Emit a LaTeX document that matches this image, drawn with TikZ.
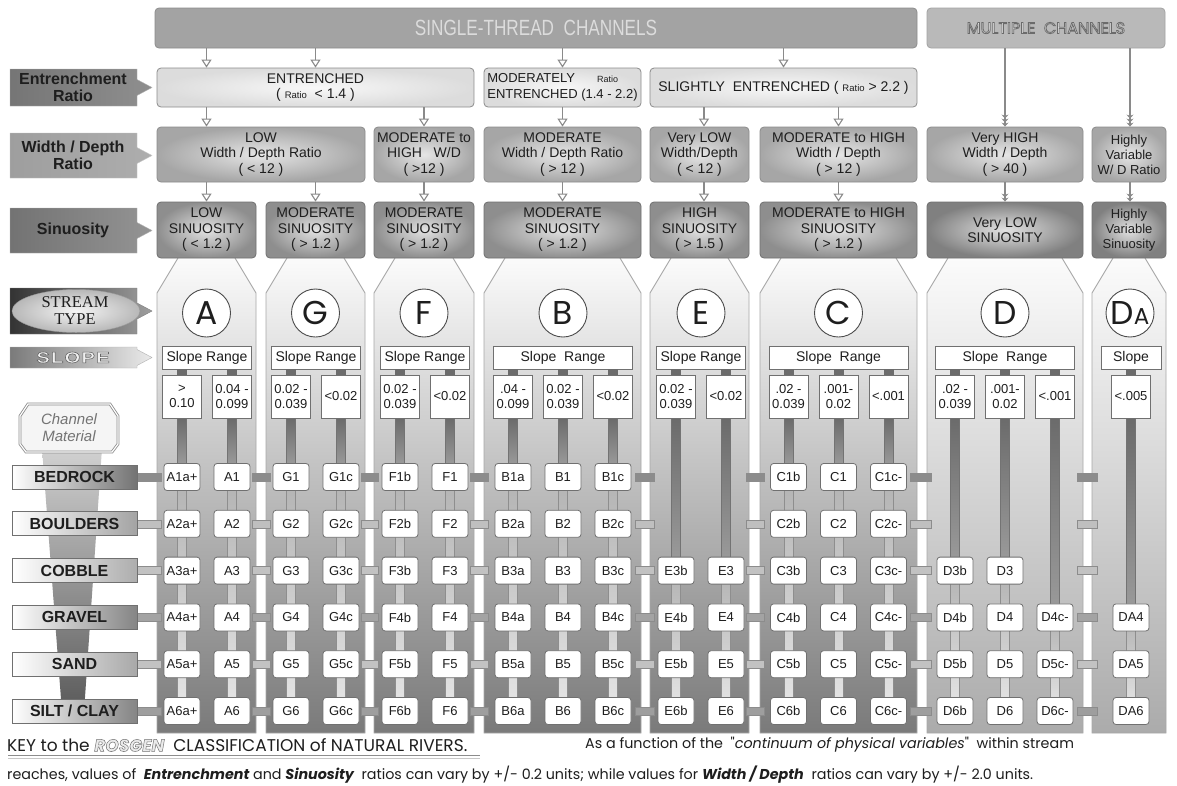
\documentclass[tikz,border=0pt]{standalone}
\usepackage{fontspec}
\setmainfont{Liberation Sans}
\newfontfamily\serifF{Liberation Serif}
\newfontfamily\gothicF{Poppins}
\newfontfamily\narrowF[FakeStretch=0.78]{Liberation Sans}
\newfontfamily\wideF[FakeStretch=1.3,LetterSpace=8]{Liberation Sans}
\usetikzlibrary{arrows.meta}
\newcommand\fsz[2]{\fontsize{#1}{#2}\selectfont}
% outlined text: fill in the current colour, stroke in grey (#1 = stroke grey level, #2 = width)
\newcommand\hollowtext[3]{\special{pdf:literal direct 2 Tr #2 w #1 G}#3\special{pdf:literal direct 0 Tr}}
\newcommand\mylabelshape[3]{\path[#3] (10,#1) -- (137,#1) -- (137,{(#1+#2)/2-8}) -- (152,{(#1+#2)/2}) -- (137,{(#1+#2)/2+8}) -- (137,#2) -- (10,#2) -- cycle;}
\definecolor{edgeA}{HTML}{8C8C8C}
\definecolor{stF}{HTML}{A3A3A3}
\definecolor{stT}{HTML}{DCDCDC}
\definecolor{mcF}{HTML}{B9B9B9}
\definecolor{entIn}{HTML}{F8F8F8}
\definecolor{entOut}{HTML}{DCDCDC}
\definecolor{wdIn}{HTML}{E6E6E6}
\definecolor{wdOut}{HTML}{A6A6A6}
\definecolor{snIn}{HTML}{E2E2E2}
\definecolor{snOut}{HTML}{8E8E8E}
\definecolor{ptop}{HTML}{FBFBFB}
\definecolor{pbotS}{HTML}{7A7A7A}
\definecolor{pbotD}{HTML}{ABABAB}
\definecolor{pline}{HTML}{A8A8A8}
\definecolor{arr}{HTML}{8A8A8A}
\definecolor{boxe}{HTML}{707070}
\definecolor{bare}{HTML}{8E8E8E}
\definecolor{txt}{HTML}{1E1E1E}
\begin{document}
\begin{tikzpicture}[x=1pt,y=-1pt,font=\fsz{14}{15.5},
 every node/.append style={text=txt},
 bx/.style={rounded corners=4pt, inner sep=0pt, align=center, line width=0.8pt},
 stbox/.style={bx, draw=edgeA, fill=stF},
 entb/.style={bx, draw=edgeA, inner color=entIn, outer color=entOut},
 wdb/.style={bx, draw=edgeA, inner color=wdIn, outer color=wdOut},
 snb/.style={bx, draw=edgeA!80!black, inner color=snIn, outer color=snOut},
 oarr/.style={draw=arr, line width=1.3pt, -{Triangle[open,fill=white,length=8pt,width=10pt,line width=1.1pt]}},
 marr/.style={draw=arr, line width=1.5pt, -{Stealth[length=4pt,width=7pt]Stealth[length=4pt,width=7pt]Stealth[length=4pt,width=7pt]}},
 marrb/.style={draw=arr, line width=1.5pt, -{Stealth[length=4pt,width=7pt]Stealth[length=4pt,width=7pt]}},
 rb/.style={draw=boxe, fill=white, rounded corners=3pt, minimum width=36pt, minimum height=27pt, inner sep=0pt, font=\fsz{13}{13}, line width=0.8pt},
 vb/.style={draw=boxe, fill=white, minimum width=39pt, minimum height=43pt, inner sep=0pt, align=center, font=\fsz{13}{15}, line width=0.7pt},
 srb/.style={draw=boxe, fill=white, minimum height=23pt, inner sep=0pt, font=\fsz{14}{14}, line width=0.7pt},
 circ/.style={circle, draw=black!70, fill=white, minimum size=48pt, inner sep=0pt, line width=0.9pt, font=\gothicF\fsz{33}{33}},
 rowl/.style={draw=boxe, minimum width=125pt, minimum height=24pt, inner sep=0pt, font=\bfseries\fsz{16}{16}, line width=0.7pt},
 lbltext/.style={font=\bfseries\fsz{16}{17}, align=center, inner sep=0pt}]
\useasboundingbox (0,0) rectangle (1177,785);
\fill[white] (0,0) rectangle (1177,785);
\foreach \n/\v in {A/206.5,G/315.5,F/424,B/562.5,E/699.5,Ea/704,C/838.5,D/1005,DA/1130,SL/783.5} \coordinate (c\n) at (\v,0);
% top row
\node[stbox, minimum width=762pt, minimum height=40pt] (ST) at (536,28) {\narrowF\fsz{22}{22}\color{stT}SINGLE-THREAD\ \ CHANNELS};
\node[bx, draw=edgeA!80, fill=mcF, minimum width=238pt, minimum height=40pt] (MC) at (1046,28) {\gothicF\fsz{16}{16}\color{black!2}\hollowtext{0.42}{0.8}{MULTIPLE\ \ CHANNELS}};
% entrenchment
\node[entb, minimum width=317pt, minimum height=39pt] (EN) at (315.5,87.5) {ENTRENCHED\\( {\fsz{9.5}{10}Ratio}\ \ < 1.4 )};
\node[entb, minimum width=157pt, minimum height=39pt, align=left, font=\fsz{13}{15.5}] (MO) at (562.5,87.5) {MODERATELY\hspace{22pt}{\fsz{9}{9}Ratio}\\ENTRENCHED (1.4 - 2.2)};
\node[entb, minimum width=267pt, minimum height=39pt] (SL) at (783.5,87.5) {SLIGHTLY\ \ ENTRENCHED ( {\fsz{9.5}{10}Ratio} > 2.2 )};
\draw[oarr] (ST.south -| cA) -- (EN.north -| cA);
\draw[oarr] (ST.south -| cG) -- (EN.north -| cG);
\draw[oarr] (ST.south -| cB) -- (MO.north -| cB);
\draw[oarr] (ST.south -| cSL) -- (SL.north -| cSL);
% width / depth
\node[wdb, minimum width=208pt, minimum height=55pt] (wAG) at (261,154.5) {LOW\\Width / Depth Ratio\\( < 12 )};
\node[wdb, minimum width=100pt, minimum height=55pt] (wF) at (424,154.5) {MODERATE to\\HIGH\ \ \ W/D\\( >12 )};
\node[wdb, minimum width=157pt, minimum height=55pt] (wB) at (562.5,154.5) {MODERATE\\Width / Depth Ratio\\( > 12 )};
\node[wdb, minimum width=99pt, minimum height=55pt] (wE) at (699.5,154.5) {Very LOW\\Width/Depth\\( < 12 )};
\node[wdb, minimum width=157pt, minimum height=55pt] (wC) at (838.5,154.5) {MODERATE to HIGH\\Width / Depth\\( > 12 )};
\node[wdb, minimum width=156pt, minimum height=55pt] (wD) at (1005,154.5) {Very HIGH\\Width / Depth\\( > 40 )};
\node[wdb, minimum width=74pt, minimum height=55pt, font=\fsz{13}{15}] (wDA) at (1129,154.5) {Highly\\Variable\\W/ D Ratio};
\draw[oarr] (EN.south -| cA) -- (wAG.north -| cA);
\draw[oarr] (EN.south -| cF) -- (wF.north -| cF);
\draw[oarr] (MO.south -| cB) -- (wB.north -| cB);
\draw[oarr] (SL.south -| cEa) -- (wE.north -| cEa);
\draw[oarr] (SL.south -| cC) -- (wC.north -| cC);
\draw[marr] (MC.south -| cD) -- (wD.north -| cD);
\draw[marr] (MC.south -| cDA) -- (wDA.north -| cDA);
% panels
\foreach \xl/\xr/\bc in {157/256/pbotS, 266/365/pbotS, 374/474/pbotS, 484/641/pbotS, 650/749/pbotS, 760/917/pbotS, 927/1083/pbotD, 1092/1166/pbotD} {
  \path[top color=ptop, bottom color=\bc] (\xl+21,258) -- (\xl,293) -- (\xl,733) -- (\xr,733) -- (\xr,293) -- (\xr-21,258) -- cycle;
  \draw[pline, line width=0.9pt] (\xl+21,258) -- (\xl,293) -- (\xl,733) -- (\xr,733) -- (\xr,293) -- (\xr-21,258);
}
% sinuosity
\node[snb, minimum width=99pt, minimum height=56pt] (sA) at (206.5,230) {LOW\\SINUOSITY\\( < 1.2 )};
\node[snb, minimum width=99pt, minimum height=56pt] (sG) at (315.5,230) {MODERATE\\SINUOSITY\\( > 1.2 )};
\node[snb, minimum width=100pt, minimum height=56pt] (sF) at (424,230) {MODERATE\\SINUOSITY\\( > 1.2 )};
\node[snb, minimum width=157pt, minimum height=56pt] (sB) at (562.5,230) {MODERATE\\SINUOSITY\\( > 1.2 )};
\node[snb, minimum width=99pt, minimum height=56pt] (sE) at (699.5,230) {HIGH\\SINUOSITY\\( > 1.5 )};
\node[snb, minimum width=157pt, minimum height=56pt] (sC) at (838.5,230) {MODERATE to HIGH\\SINUOSITY\\( > 1.2 )};
\node[snb, outer color=black!50, minimum width=156pt, minimum height=56pt] (sD) at (1005,230) {Very LOW\\SINUOSITY};
\node[snb, outer color=black!50, minimum width=74pt, minimum height=56pt, font=\fsz{13}{15}] (sDA) at (1129,230) {Highly\\Variable\\Sinuosity};
\draw[oarr] (wAG.south -| cA) -- (sA.north -| cA);
\draw[oarr] (wAG.south -| cG) -- (sG.north -| cG);
\draw[oarr] (wF.south -| cF) -- (sF.north -| cF);
\draw[oarr] (wB.south -| cB) -- (sB.north -| cB);
\draw[oarr] (wE.south -| cEa) -- (sE.north -| cEa);
\draw[oarr] (wC.south -| cC) -- (sC.north -| cC);
\draw[marrb] (wD.south -| cD) -- (sD.north -| cD);
\draw[marrb] (wDA.south -| cDA) -- (sDA.north -| cDA);
% stream type circles
\node[circ] (kA) at (206.5,313) {A};
\node[circ] (kG) at (315.5,313) {G};
\node[circ] (kF) at (424,313) {F};
\node[circ] (kB) at (563,313) {B};
\node[circ] (kE) at (701,313) {E};
\node[circ] (kC) at (838.5,313) {C};
\node[circ] (kD) at (1005,313) {D};
\node[circ] (kDA) at (1130,313) {D{\fsz{23}{23}A}};
% slope range boxes
\node[srb, minimum width=89pt] (rA) at (207,357.5) {Slope Range};
\node[srb, minimum width=89pt] (rG) at (316,357.5) {Slope Range};
\node[srb, minimum width=89pt] (rF) at (425,357.5) {Slope Range};
\node[srb, minimum width=139pt] (rB) at (563,357.5) {Slope\ \ Range};
\node[srb, minimum width=89pt] (rE) at (701,357.5) {Slope Range};
\node[srb, minimum width=139pt] (rC) at (838.5,357.5) {Slope\ \ Range};
\node[srb, minimum width=139pt] (rD) at (1005,357.5) {Slope\ \ Range};
\node[srb, minimum width=60pt] (rDA) at (1131,357.5) {Slope};
% funnel and channel material tag
\path[top color=black!18, bottom color=black!65] (42,448) -- (102,448) -- (84,712) -- (62,712) -- cycle;
\path[draw=black!45, double=white, double distance=1.2pt, fill=black!4, line width=0.8pt] (20,416) -- (28,404) -- (110,404) -- (118,416) -- (118,444) -- (112,452) -- (26,452) -- (20,444) -- cycle;
\node[font=\itshape\fsz{15}{17}, text=black!55, align=center, inner sep=0pt] (CM) at (69,428) {Channel\\Material};
% rows: connectors and labels
\foreach \r/\rc/\cc/\t [evaluate=\r as \y using 477+46.8*(\r-1)] in {1/black!55/black!45/BEDROCK, 2/black!36/black!25/BOULDERS, 3/black!32/black!24/COBBLE, 4/black!48/black!36/GRAVEL, 5/black!34/black!24/SAND, 6/black!48/black!38/{SILT / CLAY}} {
  \foreach \a/\b in {130/161, 252/270, 361/378, 470/488, 635/654, 746/764, 910/931, 1077/1097}
    \draw[draw=black!45, fill=\cc, line width=0.5pt] (\a,\y-4) rectangle (\b,\y+4);
  \node[rowl, left color=white, right color=\rc] (lab\r) at (74.5,\y) {\t};
}
% columns: value boxes, bars, stream-type codes
\foreach \nm/\x/\pre/\suf/\s/\val in {
 Aa/182/A/a+/1/{>\\0.10},
 Ab/232/A/{}/1/{0.04 -\\0.099},
 Ga/291/G/{}/1/{0.02 -\\0.039},
 Gb/341/G/c/1/{<0.02},
 Fa/400/F/b/1/{0.02 -\\0.039},
 Fb/450/F/{}/1/{<0.02},
 Ba/513/B/a/1/{.04 -\\0.099},
 Bb/563/B/{}/1/{0.02 -\\0.039},
 Bc/613/B/c/1/{<0.02},
 Ea/676/E/b/3/{0.02 -\\0.039},
 Eb/726/E/{}/3/{<0.02},
 Ca/788.5/C/b/1/{.02 -\\0.039},
 Cb/838.5/C/{}/1/{.001-\\0.02},
 Cc/888.5/C/c-/1/{<.001},
 Da/955/D/b/3/{.02 -\\0.039},
 Db/1005/D/{}/3/{.001-\\0.02},
 Dc/1055/D/c-/4/{<.001},
 DAa/1131/DA/{}/4/{<.005}} {
  \fill[black!58] (\x-5,369) rectangle (\x+5,375);
  \path[top color=black!58, bottom color=black!40, draw=black!55, line width=0.5pt] (\x-4.5,418) rectangle (\x+4.5,{477+46.8*(\s-1)-13});
  \path[top color=black!30, bottom color=black!10, draw=bare, line width=0.6pt] (\x-4.5,{477+46.8*(\s-1)}) rectangle (\x+4.5,711);
  \node[vb] (v\nm) at (\x,396.5) {\val};
  \foreach \r in {\s,...,6} {
    \node[rb] (\nm\r) at (\x,{477+46.8*(\r-1)}) {\pre\r\suf};
  }
}
% left labels
\mylabelshape{69}{106}{draw=black!30, left color=black!54, right color=black!44}
\node[lbltext] (lEnt) at (73,87.5) {Entrenchment\\Ratio};
\mylabelshape{133}{178}{draw=black!22, left color=black!38, right color=black!32}
\node[lbltext] (lWD) at (73,155.5) {Width / Depth\\Ratio};
\mylabelshape{208}{253}{draw=black!30, left color=black!55, right color=black!42}
\node[lbltext] (lSin) at (73,230.5) {Sinuosity};
\mylabelshape{288}{334}{draw=black!50, left color=black!80, right color=black!38}
\path[draw=black!40, inner color=black!4, outer color=black!28] (76,311) ellipse [x radius=64, y radius=21.5];
\node[font=\serifF\fsz{16.5}{17}, align=center, inner sep=0pt] (lST) at (75,311) {STREAM\\TYPE};
\mylabelshape{347}{368}{draw=black!30, left color=black!52, right color=black!8}
\node[inner sep=0pt, text=black!6] (lSl) at (73,357.5) {\wideF\bfseries\fsz{15.5}{15.5}\hollowtext{0.4}{0.6}{SLOPE}};
% key
\node[anchor=west, inner sep=0pt, font=\gothicF\fsz{17}{17}] (key1) at (7,745) {KEY to the {\color{black!8}\bfseries\itshape\hollowtext{0.45}{0.5}{ROSGEN}}\ \ CLASSIFICATION of NATURAL RIVERS.};
\draw[black!45, line width=1.3pt] (8,755.5) -- (480,755.5);
\draw[black!22, line width=1pt] (8,758) -- (480,758);
\node[anchor=west, inner sep=0pt, font=\gothicF\fsz{14.3}{14.3}] (key2) at (585,745) {As a function of the \ "{\itshape continuum of physical variables}"\ \ within stream};
\node[anchor=west, inner sep=0pt, font=\gothicF\fsz{14.3}{14.3}] (key3) at (7,775) {reaches, values of \ {\bfseries\itshape Entrenchment} and {\bfseries\itshape Sinuosity}\ \ ratios can vary by +/- 0.2 units; while values for {\bfseries\itshape Width / Depth}\ \ ratios can vary by +/- 2.0 units.};
\end{tikzpicture}
\end{document}
